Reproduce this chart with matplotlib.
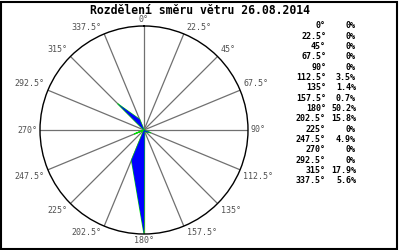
import numpy as np
import matplotlib
matplotlib.use("Agg")
import matplotlib.pyplot as plt
from matplotlib.patches import Rectangle

title = "Rozdělení směru větru 26.08.2014"
directions = [0, 22.5, 45, 67.5, 90, 112.5, 135, 157.5, 180, 202.5, 225, 247.5, 270, 292.5, 315, 337.5]
dir_labels = ["0°", "22.5°", "45°", "67.5°", "90°", "112.5°", "135°", "157.5°", "180°",
              "202.5°", "225°", "247.5°", "270°", "292.5°", "315°", "337.5°"]
percents = [0, 0, 0, 0, 0, 3.5, 1.4, 0.7, 50.2, 15.8, 0, 4.9, 0, 0, 17.9, 5.6]
pct_labels = ["0%", "0%", "0%", "0%", "0%", "3.5%", "1.4%", "0.7%", "50.2%", "15.8%",
              "0%", "4.9%", "0%", "0%", "17.9%", "5.6%"]

W, H = 400, 250
fig = plt.figure(figsize=(4, 2.5), dpi=100)
fig.patch.set_facecolor("white")

cx, cy, R = 144, 130, 104
ax = fig.add_axes([(cx - R) / W, (H - cy - R) / H, 2 * R / W, 2 * R / H], projection="polar")
ax.set_theta_zero_location("N")
ax.set_theta_direction(-1)
rmax = max(percents)
ax.set_ylim(0, rmax)
ax.grid(False)
ax.set_xticks([])
ax.set_yticks([])
ax.spines["polar"].set_color("black")
ax.spines["polar"].set_linewidth(1.0)

theta = np.deg2rad(directions)
for t in theta:
    ax.plot([t, t], [0, rmax], color="#707070", lw=0.9, zorder=1)

tt = np.append(theta, theta[0])
rr = np.append(percents, percents[0])
ax.plot(tt, rr, color="#00e000", lw=0.8, zorder=2)
ax.fill(tt, rr, color="#0000ff", lw=0, zorder=3)

mono = "DejaVu Sans Mono"
for t, lab in zip(theta, dir_labels):
    s, c = np.sin(t), np.cos(t)
    ha = "left" if s > 0.01 else ("right" if s < -0.01 else "center")
    va = "bottom" if c > 0.01 else ("top" if c < -0.01 else "center")
    dx = 3 * (1 if s > 0.01 else (-1 if s < -0.01 else 0))
    dy = 2 * (1 if c > 0.01 else (-1 if c < -0.01 else 0))
    ax.annotate(lab, xy=(t, rmax), xytext=(dx, dy), textcoords="offset pixels",
                ha=ha, va=va, fontsize=6, family=mono, color="#505050",
                annotation_clip=False)

fig.text(200 / W, 1 - 10 / H, title, ha="center", va="center", fontsize=8.3,
         family=mono, fontweight="bold", color="black")

y0, dy = 26, 10.33
for i, (dl, pl) in enumerate(zip(dir_labels, pct_labels)):
    y = 1 - (y0 + i * dy) / H
    fig.text(326 / W, y, dl, ha="right", va="center", fontsize=6, family=mono,
             fontweight="bold", color="black")
    fig.text(356 / W, y, pl, ha="right", va="center", fontsize=6, family=mono,
             fontweight="bold", color="black")

fig.patches.append(Rectangle((1 / W, 1 / H), 396 / W, 247 / H, transform=fig.transFigure,
                             fill=False, edgecolor="black", lw=1.5))

fig.savefig("out.png", dpi=100)
